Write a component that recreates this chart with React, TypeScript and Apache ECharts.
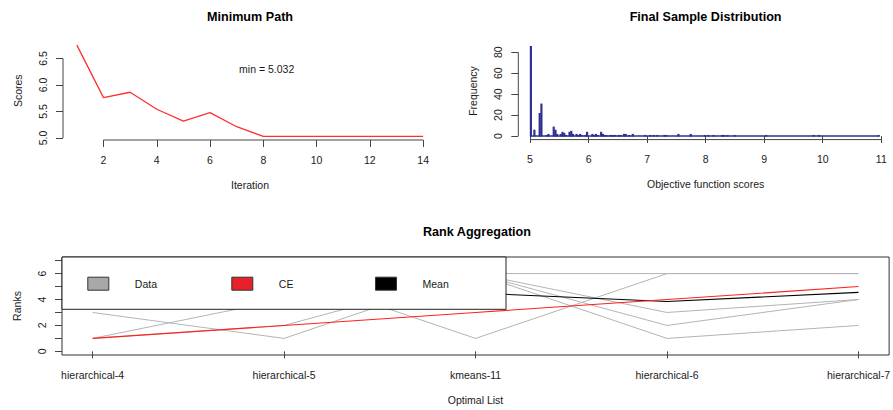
import React, { useEffect, useRef } from 'react';
import * as echarts from 'echarts';

// ---------- Minimum Path ----------
const iterations = [1, 2, 3, 4, 5, 6, 7, 8, 9, 10, 11, 12, 13, 14];
const minScores = [6.753, 5.762, 5.864, 5.543, 5.32, 5.479, 5.214, 5.032, 5.032, 5.032, 5.032, 5.032, 5.032, 5.032];
const iterTicks = [2, 4, 6, 8, 10, 12, 14];
const scoreTicks = [5.0, 5.5, 6.0, 6.5];

// ---------- Final Sample Distribution ----------
const binWidth = 0.03;
const binLeft = [
  5.0, 5.06, 5.15, 5.18, 5.27, 5.3, 5.39, 5.42, 5.45, 5.51, 5.54, 5.57, 5.6, 5.66, 5.69, 5.72,
  5.78, 5.81, 5.84, 5.87, 5.93, 5.96, 6.05, 6.08, 6.11, 6.14, 6.2, 6.23, 6.26, 6.29, 6.35, 6.38,
  6.41, 6.44, 6.5, 6.53, 6.59, 6.62, 6.68, 6.74, 6.95, 7.04, 7.1, 7.16, 7.28, 7.31, 7.52, 7.73,
  7.97, 8.03, 8.12, 8.27, 8.3, 8.36, 8.48, 9.02, 9.83, 9.92, 10.94,
];
const binCount = [
  86, 6, 22, 31, 1, 2, 9, 6, 2, 2, 4, 3, 1, 4, 5, 2,
  2, 1, 2, 1, 1, 4, 2, 1, 2, 1, 4, 2, 1, 1, 1, 1,
  1, 1, 1, 1, 2, 2, 1, 2, 1, 1, 1, 1, 1, 1, 2, 2,
  1, 1, 1, 1, 1, 1, 1, 1, 1, 1, 1,
];
const objTicks = [5, 6, 7, 8, 9, 10, 11];
const freqTicks = [0, 20, 40, 60, 80];

// ---------- Rank Aggregation ----------
const optimalList = ['hierarchical-4', 'hierarchical-5', 'kmeans-11', 'hierarchical-6', 'hierarchical-7'];
const ranksList1 = [3, 1, 6, 3, 4];
const ranksList2 = [1, 4, 6, 2, 4];
const ranksList3 = [1, 2, 6, 1, 2];
const ranksList4 = [6, 6, 1, 6, 6];
const ranksList5 = [6, 5, 6, 6, 6];
const ceRanks = [1, 2, 3, 4, 5];
const meanRanks = [3.6, 3.8, 4.5, 3.85, 4.55];
const rankTicks = [0, 1, 2, 3, 4, 5, 6, 7];
const rankLabels = [0, 2, 4, 6];

const FONT = "'Liberation Sans', Arial, Helvetica, sans-serif";
const TXT = '#1a1a1a';
const AX = '#454545';
const FS = 10.5;
const HIST = '#2c2f8f';

const rRange = (lo: number, hi: number) => {
  const d = (hi - lo) * 0.04;
  return [lo - d, hi + d];
};

const [x0min, x0max] = rRange(iterations[0], iterations[iterations.length - 1]);
const [y0min, y0max] = rRange(Math.min(...minScores), Math.max(...minScores));
const x1min = 4.8;
const x1max = 11.2;
const [y1min, y1max] = rRange(0, Math.max(...binCount));
const [x2min, x2max] = rRange(1, optimalList.length);
const [y2min, y2max] = rRange(0, 7);

const txt = { fontSize: FS, color: TXT, fontFamily: FONT };

function xAxisOf(grid: number, min: number, max: number, ticks: number[], name: string, fmt?: (v: number) => string) {
  return {
    gridIndex: grid, type: 'value', min, max,
    axisLine: { show: false }, splitLine: { show: false },
    axisTick: { show: true, length: 7, customValues: ticks, lineStyle: { color: AX, width: 1 } },
    axisLabel: { show: true, customValues: ticks, margin: 14, ...txt, formatter: fmt },
    name, nameLocation: 'middle', nameGap: 39, nameTextStyle: txt,
  };
}
function yAxisOf(grid: number, min: number, max: number, ticks: number[], labels: number[], name: string, fmt?: (v: number) => string) {
  return {
    gridIndex: grid, type: 'value', min, max,
    axisLine: { show: false }, splitLine: { show: false },
    axisTick: { show: true, length: 7, customValues: ticks, lineStyle: { color: AX, width: 1 } },
    axisLabel: { show: true, customValues: labels, rotate: 90, margin: 15, ...txt, formatter: fmt },
    name, nameLocation: 'middle', nameGap: 40, nameRotate: 90, nameTextStyle: txt,
  };
}
function axisLineSeries(xi: number, pts: number[][]) {
  return {
    type: 'line', xAxisIndex: xi, yAxisIndex: xi, data: pts, symbol: 'none', silent: true, clip: false,
    lineStyle: { color: AX, width: 1 }, z: 1, animation: false,
  };
}
function rankSeries(name: string, ranks: number[], color: string, width: number, z: number) {
  return {
    type: 'line', name, xAxisIndex: 2, yAxisIndex: 2,
    data: ranks.map((r, i) => [i + 1, r]), symbol: 'none',
    itemStyle: { color }, lineStyle: { color, width }, z, clip: false,
  };
}
function legendOf(name: string, left: number, color: string) {
  return {
    left, top: 276.7, padding: 0, itemWidth: 21, itemHeight: 13, icon: 'rect', selectedMode: false, z: 10,
    data: [name],
    itemStyle: { color, borderColor: '#333', borderWidth: 1 },
    textStyle: { ...txt, padding: [0, 0, 0, 21] },
  };
}

const option: any = {
  animation: false,
  backgroundColor: '#fff',
  textStyle: { fontFamily: FONT },
  title: [
    { text: 'Minimum Path', left: 250, top: 10, textAlign: 'center', textVerticalAlign: 'top', padding: 0, textStyle: { fontSize: 12.6, fontWeight: 'bold', color: '#000', fontFamily: FONT } },
    { text: 'Final Sample Distribution', left: 705.6, top: 10, textAlign: 'center', textVerticalAlign: 'top', padding: 0, textStyle: { fontSize: 12.6, fontWeight: 'bold', color: '#000', fontFamily: FONT } },
    { text: 'Rank Aggregation', left: 477, top: 225.5, textAlign: 'center', textVerticalAlign: 'top', padding: 0, textStyle: { fontSize: 12.6, fontWeight: 'bold', color: '#000', fontFamily: FONT } },
  ],
  grid: [
    { left: 63, top: 41.5, width: 374, height: 98.5 },
    { left: 518.3, top: 42.4, width: 374.7, height: 97.2 },
    { left: 62, top: 257, width: 830.3, height: 98, show: true, borderColor: '#333', borderWidth: 1, backgroundColor: 'transparent' },
  ],
  xAxis: [
    xAxisOf(0, x0min, x0max, iterTicks, 'Iteration', (v: number) => String(v)),
    xAxisOf(1, x1min, x1max, objTicks, 'Objective function scores', (v: number) => String(v)),
    xAxisOf(2, x2min, x2max, optimalList.map((_, i) => i + 1), 'Optimal List', (v: number) => optimalList[Math.round(v) - 1]),
  ],
  yAxis: [
    yAxisOf(0, y0min, y0max, scoreTicks, scoreTicks, 'Scores', (v: number) => v.toFixed(1)),
    yAxisOf(1, y1min, y1max, freqTicks, freqTicks, 'Frequency', (v: number) => String(v)),
    yAxisOf(2, y2min, y2max, rankTicks, rankLabels, 'Ranks', (v: number) => String(v)),
  ],
  legend: [
    legendOf('Data', 87.3, '#a8a8a8'),
    legendOf('CE', 231.3, '#e8202a'),
    legendOf('Mean', 375, '#000000'),
  ],
  graphic: [
    { type: 'rect', z: 5, shape: { x: 62, y: 257, width: 444, height: 52.3 }, style: { fill: '#fff', stroke: '#222', lineWidth: 1 } },
    { type: 'text', x: 266.7, y: 69, style: { text: `min = ${Math.min(...minScores).toFixed(3)}`, align: 'center', verticalAlign: 'middle', fill: TXT, fontSize: FS, fontFamily: FONT } },
  ],
  series: [
    // Minimum path
    axisLineSeries(0, [[iterTicks[0], y0min], [iterTicks[iterTicks.length - 1], y0min]]),
    axisLineSeries(0, [[x0min, scoreTicks[0]], [x0min, scoreTicks[scoreTicks.length - 1]]]),
    {
      type: 'line', name: 'Minimum path', xAxisIndex: 0, yAxisIndex: 0,
      data: iterations.map((it, i) => [it, minScores[i]]), symbol: 'none',
      lineStyle: { color: '#ff3030', width: 1.3 }, itemStyle: { color: '#ff3030' },
    },
    // Histogram
    axisLineSeries(1, [[objTicks[0], y1min], [objTicks[objTicks.length - 1], y1min]]),
    axisLineSeries(1, [[x1min, freqTicks[0]], [x1min, freqTicks[freqTicks.length - 1]]]),
    {
      type: 'line', name: 'baseline', xAxisIndex: 1, yAxisIndex: 1, symbol: 'none', silent: true,
      data: [[binLeft[0], 0], [binLeft[binLeft.length - 1] + binWidth, 0]],
      lineStyle: { color: HIST, width: 1.6 }, z: 2,
    },
    {
      type: 'custom', name: 'Frequency', xAxisIndex: 1, yAxisIndex: 1,
      data: binLeft.map((l, i) => [l, l + binWidth, binCount[i]]),
      encode: { x: [0, 1], y: 2 },
      renderItem: (params: any, api: any) => {
        const p0 = api.coord([api.value(0), api.value(2)]);
        const p1 = api.coord([api.value(1), 0]);
        return {
          type: 'rect',
          shape: { x: p0[0] - 0.2, y: p0[1], width: Math.max(p1[0] - p0[0] + 0.4, 2), height: p1[1] - p0[1] + 0.5 },
          style: { fill: HIST },
        };
      },
      z: 3,
    },
    // Rank aggregation
    rankSeries('Data', ranksList1, '#b4b4b4', 1, 2),
    rankSeries('Data', ranksList2, '#b4b4b4', 1, 2),
    rankSeries('Data', ranksList3, '#b4b4b4', 1, 2),
    rankSeries('Data', ranksList4, '#b4b4b4', 1, 2),
    rankSeries('Data', ranksList5, '#b4b4b4', 1, 2),
    rankSeries('Mean', meanRanks, '#000000', 1.1, 3),
    rankSeries('CE', ceRanks, '#ff2020', 1.1, 4),
  ],
};

export default function App() {
  const ref = useRef<HTMLDivElement>(null);
  useEffect(() => {
    document.body.style.margin = '0';
    const chart = echarts.init(ref.current as HTMLDivElement, null, { renderer: 'svg' });
    chart.setOption(option);
    return () => chart.dispose();
  }, []);
  return <div ref={ref} style={{ width: 893, height: 410 }} />;
}
